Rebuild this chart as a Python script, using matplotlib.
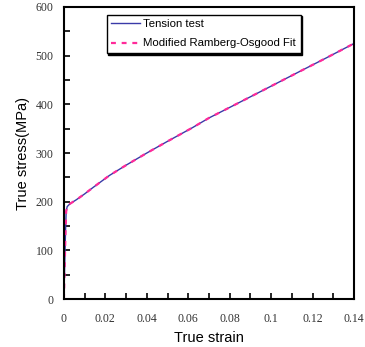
import matplotlib
matplotlib.use('Agg')
import matplotlib.pyplot as plt
from matplotlib.ticker import MultipleLocator

# tension test curve
strain = [0, 0.0004, 0.0008, 0.0011, 0.0016, 0.003, 0.006, 0.010, 0.014, 0.022, 0.030,
          0.040, 0.050, 0.062, 0.070, 0.082, 0.098, 0.114, 0.126, 0.140]
stress = [0, 70, 140, 180, 190, 196, 204, 216, 229, 254, 275,
          300, 324, 352, 372, 398, 433, 468, 494, 525]

# fitted curve (same shape, drawn on top)
fit_strain = strain
fit_stress = stress

xticks = [0, 0.02, 0.04, 0.06, 0.08, 0.1, 0.12, 0.14]
xtick_labels = ['0', '0.02', '0.04', '0.06', '0.08', '0.1', '0.12', '0.14']


def main():
    fig = plt.figure(figsize=(3.65, 3.47), dpi=100)
    ax = fig.add_axes([0.175, 0.138, 0.795, 0.842])

    ax.plot(strain, stress, color='#3a3aa8', lw=1.0, label='Tension test')
    ax.plot(fit_strain, fit_stress, color='#ff2a9a', lw=1.6, ls=(0, (2.2, 2.6)),
            label='Modified Ramberg-Osgood Fit')

    ax.set_xlim(0, 0.14)
    ax.set_ylim(0, 600)
    ax.xaxis.set_minor_locator(MultipleLocator(0.01))
    ax.yaxis.set_major_locator(MultipleLocator(100))
    ax.yaxis.set_minor_locator(MultipleLocator(50))
    ax.set_xticks(xticks)
    ax.set_xticklabels(xtick_labels)

    ax.tick_params(which='both', direction='in', width=1.2, length=4)
    ax.tick_params(axis='x', which='major', pad=10)
    ax.tick_params(axis='y', which='major', pad=7.5)
    for lab in ax.get_xticklabels() + ax.get_yticklabels():
        lab.set_family('Liberation Serif')
        lab.set_fontsize(8.5)
        lab.set_color('#333333')
    for sp in ax.spines.values():
        sp.set_linewidth(1.5)

    ax.set_xlabel('True strain', family='Liberation Sans', fontsize=10.5, labelpad=4)
    ax.set_ylabel('True stress(MPa)', family='Liberation Sans', fontsize=10.5, labelpad=4)

    leg = ax.legend(loc='upper left', bbox_to_anchor=(0.148, 0.973), fancybox=False,
                    shadow={'ox': 1.2, 'oy': -1.2, 'color': 'black', 'alpha': 1},
                    framealpha=1, edgecolor='black', handlelength=2.5,
                    handletextpad=0.3, borderpad=0.4, borderaxespad=0,
                    prop={'family': 'Liberation Sans', 'size': 8.2},
                    labelspacing=0.8)
    leg.get_frame().set_linewidth(1.0)

    fig.savefig('out.png', dpi=100)


if __name__ == "__main__":
    main()
